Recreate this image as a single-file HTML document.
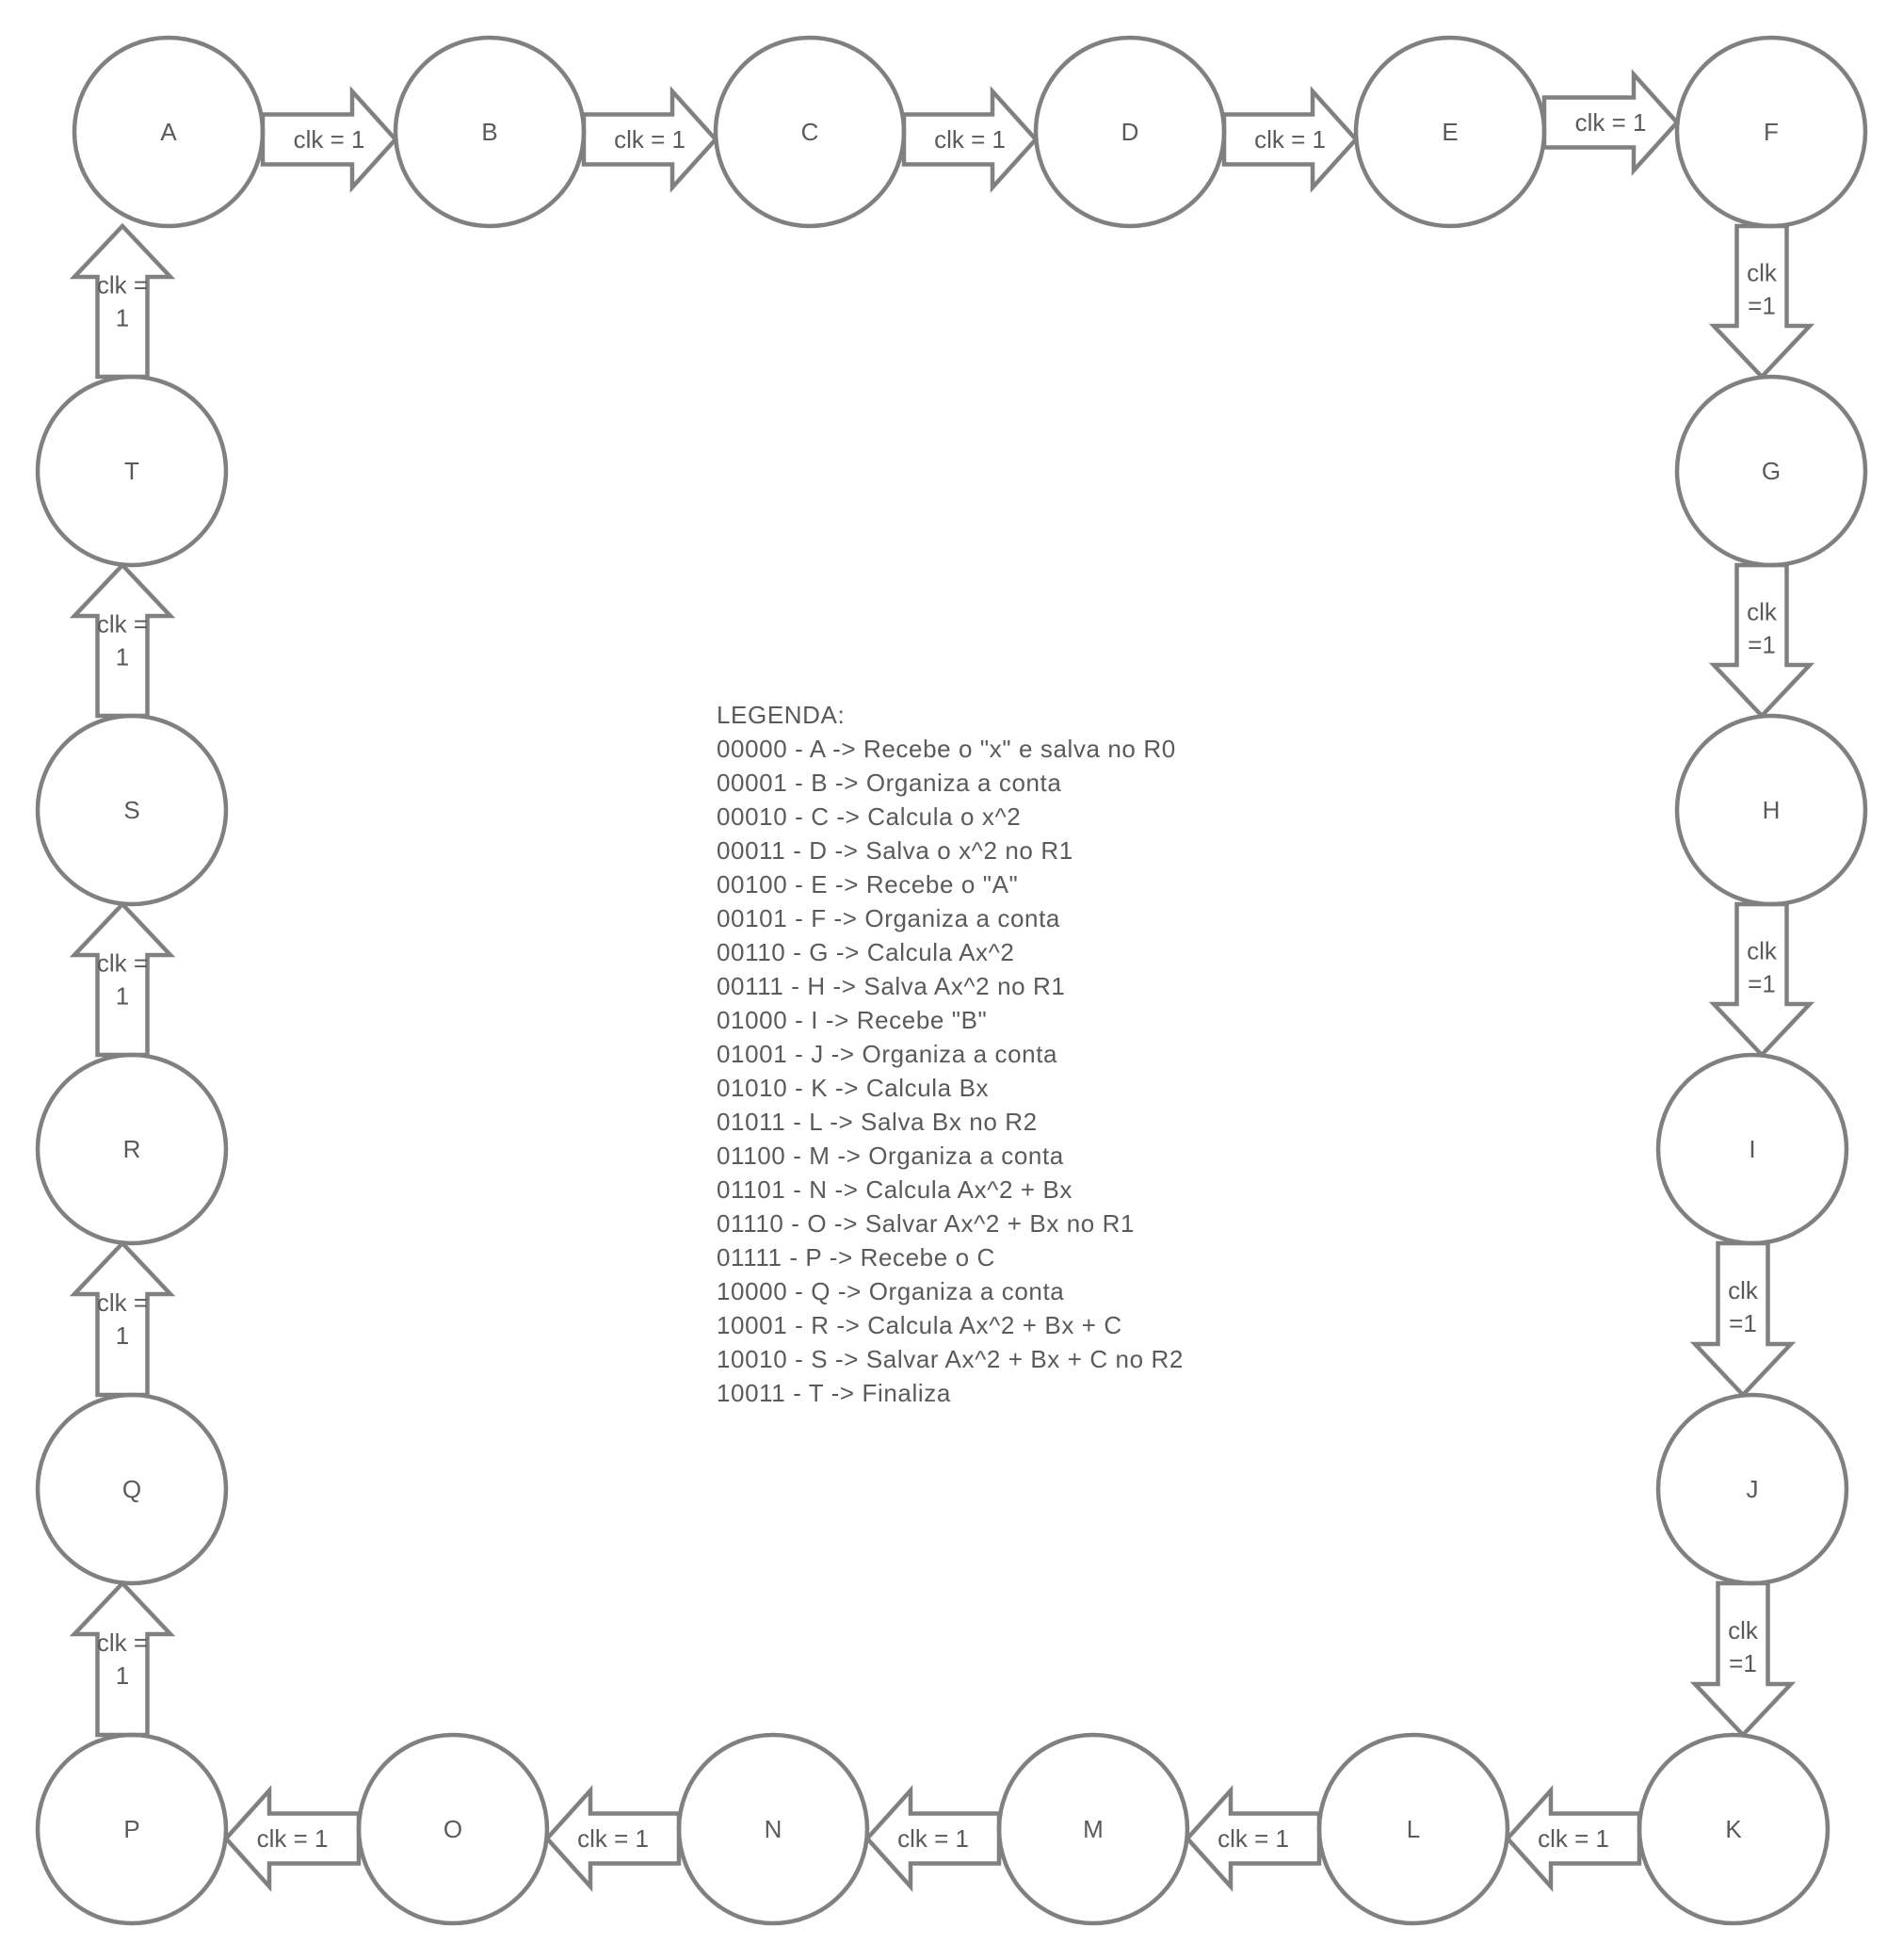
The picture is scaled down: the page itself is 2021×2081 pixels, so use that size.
<!DOCTYPE html>
<html><head><meta charset="utf-8"><style>
html,body{margin:0;padding:0;background:#fff;}
svg{display:block;}
text{font-family:"Liberation Sans",sans-serif;fill:#5a5a5a;}
</style></head><body>
<svg id="svg" width="2021" height="2081" viewBox="0 0 2021 2081" xmlns="http://www.w3.org/2000/svg">
<g id="legend"></g>
</svg>
<script>
const nodeNames = ["A","B","C","D","E","F","G","H","I","J","K","L","M","N","O","P","Q","R","S","T"];
const nodeX = [179,520,860,1200,1540,1881,1881,1881,1861,1861,1841,1501,1161,821,481,140,140,140,140,140];
const nodeY = [140,140,140,140,140,140,500,860,1220,1581,1942,1942,1942,1942,1942,1942,1581,1220,860,500];
const legendLines = ["LEGENDA:","00000 - A -> Recebe o \"x\" e salva no R0","00001 - B -> Organiza a conta","00010 - C -> Calcula o x^2","00011 - D -> Salva o x^2 no R1","00100 - E -> Recebe o \"A\"","00101 - F -> Organiza a conta","00110 - G -> Calcula Ax^2","00111 - H -> Salva Ax^2 no R1","01000 - I -> Recebe \"B\"","01001 - J -> Organiza a conta","01010 - K -> Calcula Bx","01011 - L -> Salva Bx no R2","01100 - M -> Organiza a conta","01101 - N -> Calcula Ax^2 + Bx","01110 - O -> Salvar Ax^2 + Bx no R1","01111 - P -> Recebe o C","10000 - Q -> Organiza a conta","10001 - R -> Calcula Ax^2 + Bx + C","10010 - S -> Salvar Ax^2 + Bx + C no R2","10011 - T -> Finaliza"];
const R = 100;
const NS = "http://www.w3.org/2000/svg";
const svg = document.getElementById('svg');
function mk(tag, attrs){const e=document.createElementNS(NS,tag);for(const k in attrs)e.setAttribute(k,attrs[k]);return e;}

function arrow(i, j){
  const x1=nodeX[i],y1=nodeY[i],x2=nodeX[j],y2=nodeY[j];
  let pts, lines, lx, ly, bw=26.5, hw=51, hl=46;
  if (Math.abs(y1-y2)<5){
    const dir = x2>x1?1:-1;
    const cy = (i===4)?130:y1+(dir>0?8:10);
    const s = x1+dir*R, t = x2-dir*R;
    const hb = t-dir*hl;
    pts=[[s,cy-bw],[hb,cy-bw],[hb,cy-hw],[t,cy],[hb,cy+hw],[hb,cy+bw],[s,cy+bw]];
    lines=["clk = 1"]; lx=(s+t)/2; ly=cy;
  } else {
    const dir = y2>y1?1:-1;
    const cx = x1-10;
    const s = y1+dir*R, t = y2-dir*R;
    const hb = t-dir*(hl+8);
    pts=[[cx-bw,s],[cx-bw,hb],[cx-hw,hb],[cx,t],[cx+hw,hb],[cx+bw,hb],[cx+bw,s]];
    if(dir>0){lines=["clk","=1"]; ly=(s+t)/2-13;} else {lines=["clk =","1"]; ly=(s+t)/2;}
    lx=cx;
  }
  const g=mk('g',{});
  
  
  g.appendChild(mk('polygon',{points:pts.map(p=>p.join(',')).join(' '),fill:'#fff',stroke:'#808080','stroke-width':4.5,'stroke-linejoin':'miter'}));
  lines.forEach((l,k)=>{
    const tx=mk('text',{x:lx,y:ly+(k-(lines.length-1)/2)*35+9,'font-size':26,'text-anchor':'middle'});
    tx.textContent=l; g.appendChild(tx);
  });
  svg.appendChild(g);
}
for(let i=0;i<nodeNames.length-1;i++) arrow(i,i+1);
arrow(nodeNames.length-1,0);

nodeNames.forEach((n,i)=>{
  const g=mk('g',{});
  
  
  g.appendChild(mk('circle',{cx:nodeX[i],cy:nodeY[i],r:R,fill:'none',stroke:'#808080','stroke-width':4.5}));
  const t=mk('text',{x:nodeX[i],y:nodeY[i]+9,'font-size':26,'text-anchor':'middle'});
  t.textContent=n; g.appendChild(t);
  svg.appendChild(g);
});

const lg=document.getElementById('legend');
legendLines.forEach((l,k)=>{
  const t=mk('text',{x:761,y:768+k*36,'font-size':26,'letter-spacing':0.6});
  
  
  t.textContent=l; lg.appendChild(t);
});
</script>
</body></html>
